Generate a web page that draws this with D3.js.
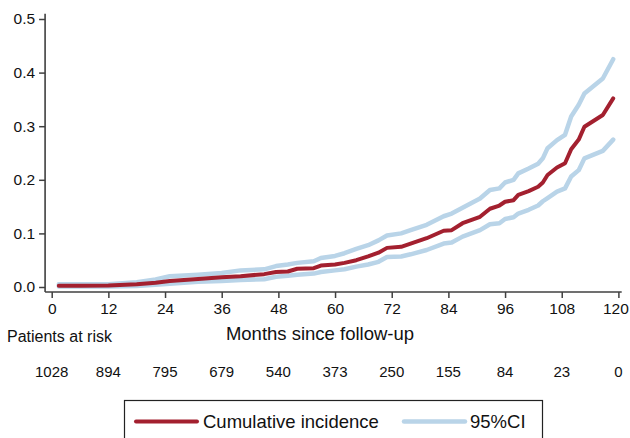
<!DOCTYPE html>
<html>
<head>
<meta charset="utf-8">
<script src="https://cdn.jsdelivr.net/npm/d3@7"></script>
<style>
  html, body { margin: 0; padding: 0; background: #fff; }
  svg { display: block; font-family: 'Liberation Sans', Arial, sans-serif; }
</style>
</head>
<body>
<svg id="chart" width="630" height="438"></svg>
<script>
// ---------- DATA ----------
const months = [1.5, 6, 12, 18, 22, 25, 31, 36, 40, 45, 47.5, 50, 52, 55.5, 57, 60, 62, 64.5, 67, 69.2,
  71, 74, 76, 79.4, 83, 84.7, 87, 90.7, 92.8, 94.8, 96, 97.8, 98.8, 101, 103, 104, 105, 107, 108.7,
  110, 111.6, 112.8, 116.7, 118.9];
const cumIncidence = [0.0025, 0.0025, 0.003, 0.005, 0.008, 0.011, 0.015, 0.018, 0.020, 0.024, 0.028, 0.029,
  0.034, 0.035, 0.040, 0.042, 0.045, 0.050, 0.057, 0.064, 0.073, 0.075, 0.081, 0.091, 0.105, 0.106, 0.119,
  0.131, 0.146, 0.152, 0.159, 0.162, 0.172, 0.179, 0.187, 0.195, 0.209, 0.223, 0.231, 0.257, 0.275, 0.299,
  0.321, 0.352];
const ciLower = [0.001, 0.001, 0.001, 0.002, 0.004, 0.006, 0.010, 0.011, 0.013, 0.0145, 0.019, 0.021, 0.023,
  0.025, 0.028, 0.031, 0.033, 0.038, 0.042, 0.047, 0.056, 0.057, 0.061, 0.069, 0.081, 0.083, 0.094, 0.106,
  0.117, 0.119, 0.127, 0.130, 0.137, 0.144, 0.152, 0.160, 0.166, 0.178, 0.184, 0.206, 0.218, 0.240, 0.254,
  0.275];
const ciUpper = [0.005, 0.005, 0.005, 0.009, 0.014, 0.020, 0.023, 0.026, 0.031, 0.033, 0.039, 0.042, 0.045,
  0.048, 0.054, 0.058, 0.063, 0.071, 0.078, 0.087, 0.096, 0.100, 0.106, 0.116, 0.132, 0.137, 0.148, 0.165,
  0.181, 0.184, 0.195, 0.200, 0.212, 0.221, 0.230, 0.240, 0.259, 0.274, 0.284, 0.318, 0.340, 0.361, 0.389,
  0.425];

const xTicks = [0, 12, 24, 36, 48, 60, 72, 84, 96, 108, 120];
const yTicks = [0, 0.1, 0.2, 0.3, 0.4, 0.5];
const riskMonths = [0, 12, 24, 36, 48, 60, 72, 84, 96, 108, 120];
const atRisk = [1028, 894, 795, 679, 540, 373, 250, 155, 84, 23, 0];

const RED = '#a3202f';
const BLUE = '#b9d4e8';
const AXIS = '#404040';

// ---------- CHART ----------
(function draw() {
  const svg = d3.select('#chart');

  const x = d3.scaleLinear().domain([0, 120]).range([51.7, 618.4]);
  const y = d3.scaleLinear().domain([0, 0.5]).range([287, 19]);

  // axis frame (slightly padded past the data range, like the original)
  const xMin = -1.4, xMax = 120.7, yMin = -0.0093, yMax = 0.51;

  const xAxis = svg.append('g')
    .attr('transform', `translate(0,${y(yMin)})`)
    .call(d3.axisBottom(x).tickValues(xTicks).tickSize(6).tickPadding(5).tickSizeOuter(0));
  xAxis.select('.domain').remove();
  xAxis.selectAll('line').attr('stroke', AXIS).attr('stroke-width', 1.5);
  xAxis.selectAll('text').attr('font-size', 15.5).attr('fill', '#111')
    .attr('font-family', "'Liberation Sans', Arial, sans-serif");
  // last label sits against the page edge: nudge it in so it is not clipped
  xAxis.selectAll('text').filter((d) => d === 120).attr('dx', -3);

  const yAxis = svg.append('g')
    .attr('transform', `translate(${x(xMin)},0)`)
    .call(d3.axisLeft(y).tickValues(yTicks).tickFormat(d3.format('.1f')).tickSize(6).tickPadding(4).tickSizeOuter(0));
  yAxis.select('.domain').remove();
  yAxis.selectAll('line').attr('stroke', AXIS).attr('stroke-width', 1.5);
  yAxis.selectAll('text').attr('font-size', 15.5).attr('fill', '#111')
    .attr('font-family', "'Liberation Sans', Arial, sans-serif");

  svg.append('line')
    .attr('x1', x(xMin)).attr('x2', x(xMax))
    .attr('y1', y(yMin)).attr('y2', y(yMin))
    .attr('stroke', AXIS).attr('stroke-width', 1.6);
  svg.append('line')
    .attr('x1', x(xMin)).attr('x2', x(xMin))
    .attr('y1', y(yMin)).attr('y2', y(yMax))
    .attr('stroke', AXIS).attr('stroke-width', 1.6);

  // curves
  const line = (vals) => d3.line()
    .x((d, i) => x(months[i]))
    .y((d) => y(d))(vals);

  [ciUpper, ciLower].forEach((vals) => {
    svg.append('path')
      .attr('d', line(vals))
      .attr('fill', 'none')
      .attr('stroke', BLUE)
      .attr('stroke-width', 4.5)
      .attr('stroke-linejoin', 'round')
      .attr('stroke-linecap', 'round');
  });

  svg.append('path')
    .attr('d', line(cumIncidence))
    .attr('fill', 'none')
    .attr('stroke', RED)
    .attr('stroke-width', 4)
    .attr('stroke-linejoin', 'round')
    .attr('stroke-linecap', 'round');

  // axis title
  svg.append('text')
    .attr('x', 320).attr('y', 340)
    .attr('text-anchor', 'middle')
    .attr('font-size', 18.5)
    .attr('fill', '#111')
    .text('Months since follow-up');

  // risk table
  svg.append('text')
    .attr('x', 7).attr('y', 342)
    .attr('font-size', 16)
    .attr('fill', '#111')
    .text('Patients at risk');

  svg.append('g')
    .selectAll('text')
    .data(atRisk)
    .join('text')
    .attr('x', (d, i) => x(riskMonths[i]))
    .attr('y', 377)
    .attr('text-anchor', 'middle')
    .attr('font-size', 15)
    .attr('fill', '#111')
    .text((d) => d);

  // legend
  const lg = svg.append('g');
  lg.append('rect')
    .attr('x', 124.5).attr('y', 400.5)
    .attr('width', 418).attr('height', 60)
    .attr('fill', 'none')
    .attr('stroke', '#222')
    .attr('stroke-width', 1.2);

  const items = [
    { label: 'Cumulative incidence', color: RED, w: 4, x0: 136, x1: 197, tx: 203 },
    { label: '95%CI', color: BLUE, w: 4.5, x0: 404, x1: 465, tx: 470 },
  ];
  items.forEach((it) => {
    lg.append('line')
      .attr('x1', it.x0).attr('x2', it.x1)
      .attr('y1', 421.5).attr('y2', 421.5)
      .attr('stroke', it.color)
      .attr('stroke-width', it.w)
      .attr('stroke-linecap', 'round');
    lg.append('text')
      .attr('x', it.tx).attr('y', 427.5)
      .attr('font-size', 18.5)
      .attr('fill', '#111')
      .text(it.label);
  });
})();
</script>
</body>
</html>
